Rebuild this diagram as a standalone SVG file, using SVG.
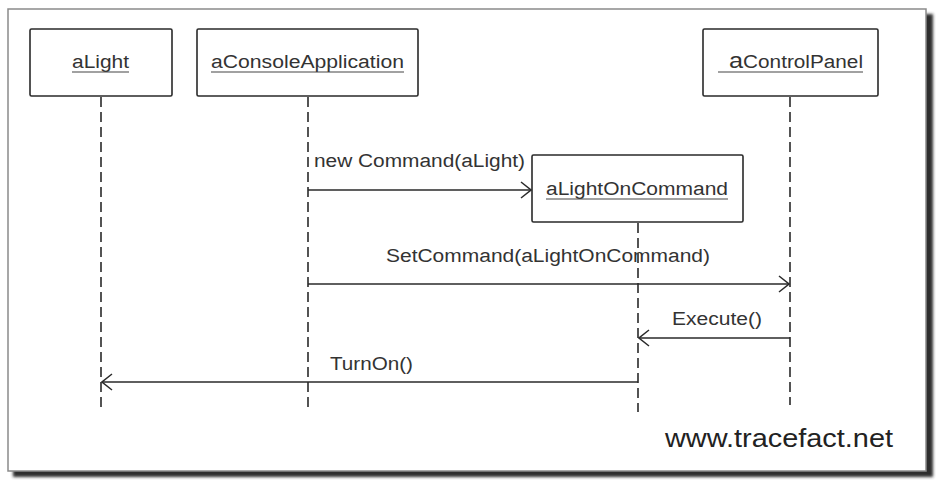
<svg xmlns="http://www.w3.org/2000/svg" width="945" height="488" viewBox="0 0 945 488">
  <style>
    .box { fill: #ffffff; stroke: #2a2a2a; stroke-width: 1.6; }
    .lbl { font-family: "Liberation Sans", Arial, sans-serif; font-size: 18px; fill: #333333; }
    .ul { stroke: #444444; stroke-width: 1.2; }
    .life { stroke: #2a2a2a; stroke-width: 1.6; stroke-dasharray: 10 5; fill: none; }
    .msg { stroke: #2a2a2a; stroke-width: 1.5; fill: none; }
  </style>
  <defs>
    <marker id="open" viewBox="0 0 12 18" refX="11" refY="9" markerWidth="12" markerHeight="18" markerUnits="userSpaceOnUse" orient="auto">
      <path d="M1,1 L11,9 L1,17" fill="none" stroke="#2a2a2a" stroke-width="1.5"/>
    </marker>
    <filter id="sh" x="-5%" y="-5%" width="110%" height="110%">
      <feGaussianBlur stdDeviation="1.5"/>
    </filter>
  </defs>

  <rect width="945" height="488" fill="#ffffff"/>
  <!-- frame with shadow -->
  <rect x="13" y="14" width="920" height="463" fill="#2e2e2e" filter="url(#sh)"/>
  <rect x="8" y="9" width="918" height="462" fill="#ffffff" stroke="#8a8a8a" stroke-width="1.5"/>

  <g id="connectors">
    <line class="life" x1="101" y1="97" x2="101" y2="412"/>
    <line class="life" x1="308" y1="97" x2="308" y2="412"/>
    <line class="life" x1="638" y1="223" x2="638" y2="412"/>
    <line class="life" x1="790" y1="97" x2="790" y2="405"/>

    <line class="msg" x1="308" y1="190" x2="531" y2="190" marker-end="url(#open)"/>
    <text class="lbl" x="314" y="167" textLength="211" lengthAdjust="spacingAndGlyphs">new Command(aLight)</text>

    <line class="msg" x1="308" y1="284" x2="789" y2="284" marker-end="url(#open)"/>
    <text class="lbl" x="386" y="262" textLength="324" lengthAdjust="spacingAndGlyphs">SetCommand(aLightOnCommand)</text>

    <line class="msg" x1="790" y1="338" x2="639" y2="338" marker-end="url(#open)"/>
    <text class="lbl" x="672" y="325" textLength="90" lengthAdjust="spacingAndGlyphs">Execute()</text>

    <line class="msg" x1="638" y1="382" x2="102" y2="382" marker-end="url(#open)"/>
    <text class="lbl" x="330" y="370" textLength="83" lengthAdjust="spacingAndGlyphs">TurnOn()</text>
  </g>

  <g id="aLight">
    <rect class="box" x="30" y="29" width="142" height="67" rx="1.5"/>
    <text class="lbl" x="72" y="68" textLength="57" lengthAdjust="spacingAndGlyphs">aLight</text>
    <line class="ul" x1="72" y1="72" x2="129" y2="72"/>
  </g>

  <g id="aConsoleApplication">
    <rect class="box" x="197" y="29" width="221" height="67" rx="1.5"/>
    <text class="lbl" x="211" y="68" textLength="193" lengthAdjust="spacingAndGlyphs">aConsoleApplication</text>
    <line class="ul" x1="211" y1="72" x2="404" y2="72"/>
  </g>

  <g id="aControlPanel">
    <rect class="box" x="703" y="29" width="175" height="67" rx="1.5"/>
    <text class="lbl" x="729" y="68" textLength="134" lengthAdjust="spacingAndGlyphs"><tspan font-size="22">a</tspan>ControlPanel</text>
    <line class="ul" x1="718" y1="72" x2="863" y2="72"/>
  </g>

  <g id="aLightOnCommand">
    <rect class="box" x="532" y="155" width="211" height="67" rx="1.5"/>
    <text class="lbl" x="546" y="195" textLength="182" lengthAdjust="spacingAndGlyphs">aLightOnCommand</text>
    <line class="ul" x1="546" y1="199" x2="728" y2="199"/>
  </g>

  <text class="lbl" x="665" y="447" textLength="228" lengthAdjust="spacingAndGlyphs" style="font-size:26px;fill:#222222">www.tracefact.net</text>
</svg>
